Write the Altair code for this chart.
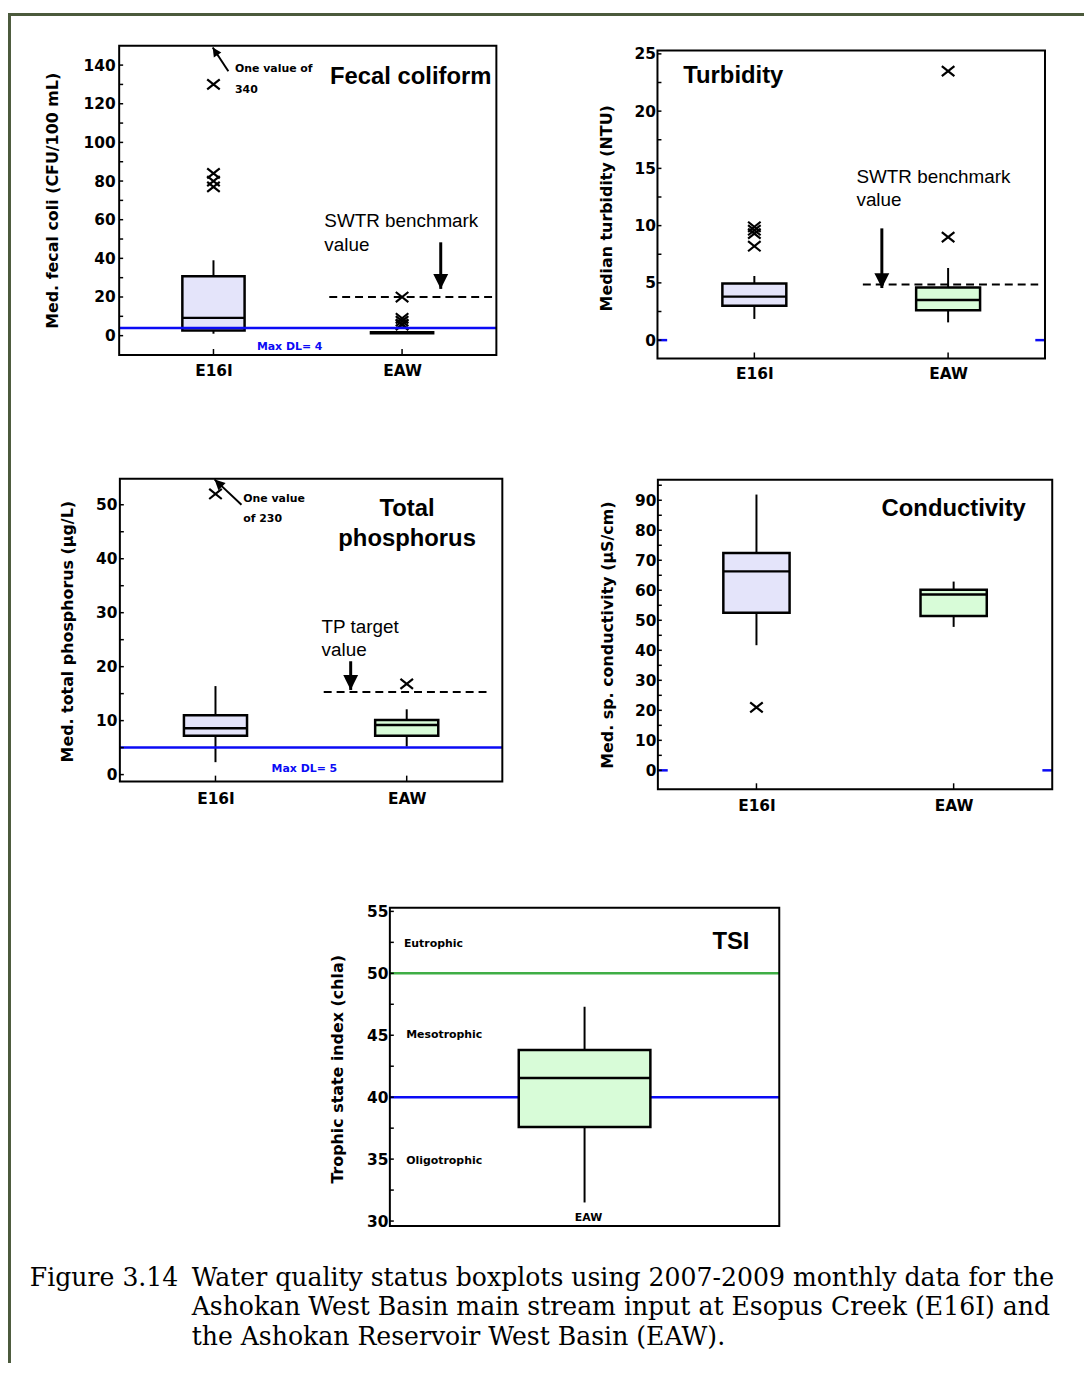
import json
import altair as alt
import pandas as pd

# ---------------------------------------------------------------- data
CATS = ["E16I", "EAW"]
FILL_COLORS = ["#e4e4fa", "#d8fcd8"]

# Fecal coliform (CFU/100 mL)
FC_LOW = [1.0, 1.2]
FC_Q1 = [2.7, 1.2]
FC_MED = [9.2, 1.5]
FC_Q3 = [30.7, 1.8]
FC_HIGH = [39.0, 1.8]
FC_OUT_CAT = ["E16I", "E16I", "E16I", "E16I", "EAW", "EAW", "EAW", "EAW", "EAW"]
FC_OUT_VAL = [130, 84, 80, 77, 20, 9, 7.5, 6, 5.5]
FC_BENCH = 20
FC_DL = 4
FC_TICKS = [0, 20, 40, 60, 80, 100, 120, 140]

# Turbidity (NTU)
TB_LOW = [1.85, 1.55]
TB_Q1 = [3.0, 2.6]
TB_MED = [3.8, 3.5]
TB_Q3 = [4.95, 4.6]
TB_HIGH = [5.6, 6.3]
TB_OUT_CAT = ["E16I", "E16I", "E16I", "E16I", "EAW", "EAW"]
TB_OUT_VAL = [9.9, 9.6, 9.3, 8.2, 23.5, 9.0]
TB_BENCH = 4.85
TB_TICKS = [0, 5, 10, 15, 20, 25]

# Total phosphorus (ug/L)
TP_LOW = [2.3, 5.2]
TP_Q1 = [7.2, 7.2]
TP_MED = [8.6, 9.2]
TP_Q3 = [11.0, 10.1]
TP_HIGH = [16.4, 12.1]
TP_OUT_CAT = ["E16I", "EAW"]
TP_OUT_VAL = [52, 16.8]
TP_TARGET = 15.3
TP_DL = 5
TP_TICKS = [0, 10, 20, 30, 40, 50]

# Specific conductivity (uS/cm)
SC_LOW = [41.7, 47.8]
SC_Q1 = [52.5, 51.4]
SC_MED = [66.3, 58.6]
SC_Q3 = [72.4, 60.2]
SC_HIGH = [91.9, 62.9]
SC_OUT_CAT = ["E16I"]
SC_OUT_VAL = [21]
SC_TICKS = [0, 10, 20, 30, 40, 50, 60, 70, 80, 90]

# Trophic state index
TSI_CATS = ["EAW"]
TSI_FILL = ["#d8fcd8"]
TSI_LOW = [31.5]
TSI_Q1 = [37.6]
TSI_MED = [41.55]
TSI_Q3 = [43.8]
TSI_HIGH = [47.3]
TSI_MESO = 40
TSI_EU = 50
TSI_TICKS = [30, 35, 40, 45, 50, 55]
TSI_CLASSES = ["Eutrophic", "Mesotrophic", "Oligotrophic"]
TSI_CLASS_Y = [52.1, 44.75, 34.6]

CAPTION = [
    "Figure 3.14",
    "Water quality status boxplots using 2007-2009 monthly data for the",
    "Ashokan West Basin main stream input at Esopus Creek (E16I) and",
    "the Ashokan Reservoir West Basin (EAW).",
]
CAPTION_COL = [0, 1, 1, 1]
CAPTION_LINE = [0, 0, 1, 2]

# ---------------------------------------------------------------- style
W, H = 1084, 1360
AX_FONT = "DejaVu Sans"
SANS = "Liberation Sans"
SERIF = "DejaVu Serif"
BLUE = "#0b0bf5"
GREEN = "#3fae45"
BORDER = "#4b5a3c"
XPATH = "M-1,-0.8L1,0.8M-1,0.8L1,-0.8"
HALF = 0.165


def D(**cols):
    return pd.DataFrame(cols)


class Panel:
    def __init__(self, x0, x1, yb, yt, ydom, ncat, ticks, title, title_x, title_y, ypad,
                 xpad=None, cats=None):
        self.x0, self.x1, self.yb, self.yt = x0, x1, yb, yt
        self.ydom = ydom
        self.ncat = ncat
        self.ticks = ticks
        self.xs = alt.Scale(domain=[0, ncat], range=[x0, x1], nice=False, zero=False)
        self.ys = alt.Scale(domain=ydom, range=[yb, yt], nice=False, zero=False)
        self.layers = []
        # one identical axis definition shared by every layer of the panel
        self.yaxis = alt.Axis(orient="left", offset=-x0, values=ticks, ticks=False, domain=False,
                              grid=False, labelFont=AX_FONT, labelFontWeight="bold",
                              labelFontSize=15.5, labelColor="black", labelPadding=ypad,
                              labelOverlap=False, labelFlush=False, title=title,
                              titleFont=AX_FONT, titleFontWeight="bold", titleFontSize=16,
                              titleColor="black", titleAngle=270, titleAlign="center",
                              titleBaseline="middle", titleX=title_x, titleY=title_y)
        if cats and xpad is not None:
            expr = json.dumps(cats).replace('"', "'") + "[floor(datum.value)]"
            self.xaxis = alt.Axis(orient="bottom", offset=yb - H,
                                  values=[i + 0.5 for i in range(len(cats))], labelExpr=expr,
                                  ticks=False, domain=False, grid=False, labelFont=AX_FONT,
                                  labelFontWeight="bold", labelFontSize=15.5, labelColor="black",
                                  labelPadding=xpad, labelOverlap=False, labelFlush=False,
                                  title=None)
        else:
            self.xaxis = None

    def X(self, f):
        return alt.X(f, type="quantitative", scale=self.xs, axis=self.xaxis)

    def Y(self, f):
        return alt.Y(f, type="quantitative", scale=self.ys, axis=self.yaxis)

    def add(self, c):
        self.layers.append(c)

    def boxes(self, cats, fills, low, q1, med, q3, high, half=HALF):
        pos = [i + 0.5 for i in range(len(cats))]
        d = D(pos=pos, xl=[p - half for p in pos], xr=[p + half for p in pos],
              low=low, q1=q1, med=med, q3=q3, high=high, fill=fills)
        self.add(alt.Chart(d).mark_rule(color="black", strokeWidth=2).encode(
            x=self.X("pos"), y=self.Y("low"), y2="q1"))
        self.add(alt.Chart(d).mark_rule(color="black", strokeWidth=2).encode(
            x=self.X("pos"), y=self.Y("q3"), y2="high"))
        self.add(alt.Chart(d).mark_rect(stroke="black", strokeWidth=2.5).encode(
            x=self.X("xl"), x2="xr", y=self.Y("q1"), y2="q3",
            fill=alt.Fill("fill:N", scale=None)))
        self.add(alt.Chart(d).mark_rule(color="black", strokeWidth=2.5).encode(
            x=self.X("xl"), x2="xr", y=self.Y("med")))

    def outliers(self, cats, out_cat, out_val):
        pos = [cats.index(c) + 0.5 for c in out_cat]
        d = D(pos=pos, v=out_val)
        self.add(alt.Chart(d).mark_point(shape=XPATH, size=160, filled=False, stroke="black",
                                         strokeWidth=2.2, opacity=1).encode(
            x=self.X("pos"), y=self.Y("v")))

    def hline(self, y, xa, xb, color, width=2.5, dash=None):
        d = D(x=[xa], x2=[xb], y=[y])
        kw = dict(color=color, strokeWidth=width)
        if dash:
            kw["strokeDash"] = dash
        self.add(alt.Chart(d).mark_rule(**kw).encode(x=self.X("x"), x2="x2", y=self.Y("y")))

    def arrow(self, xs, ys, xt, yt, width=3, head=225, angle=0):
        d = D(x=[xs], y=[ys], x2=[xt], y2=[yt])
        self.add(alt.Chart(d).mark_rule(color="black", strokeWidth=width).encode(
            x=self.X("x"), y=self.Y("y"), x2="x2", y2="y2"))
        shape = "M-1,-2L1,-2L0,0Z" if angle == 0 else "M-1,2L1,2L0,0Z"
        kw = dict(shape=shape, size=head, filled=True, color="black", opacity=1)
        if angle:
            kw["angle"] = angle
        self.add(alt.Chart(d).mark_point(**kw).encode(x=self.X("x2"), y=self.Y("y2")))

    def text(self, xs, ys, texts, font=SANS, size=19, weight="normal", align="left",
             baseline="alphabetic", color="black"):
        d = D(x=xs, y=ys, t=texts)
        self.add(alt.Chart(d).mark_text(font=font, fontSize=size, fontWeight=weight, align=align,
                                        baseline=baseline, color=color).encode(
            x=self.X("x"), y=self.Y("y"), text="t:N"))

    def frame(self, minor, xticks=True):
        lo, hi = self.ydom
        allt = sorted(t for t in set(self.ticks) | set(minor) if lo < t < hi - 1e-9)
        d = D(x=[0] * len(allt), v=allt)
        self.add(alt.Chart(d).mark_point(shape="M0,0L1,0", size=64, filled=False, stroke="black",
                                         strokeWidth=1.5, opacity=1).encode(
            x=self.X("x"), y=self.Y("v")))
        if xticks:
            pos = [i + 0.5 for i in range(self.ncat)]
            d2 = D(x=pos, y=[lo] * len(pos))
            self.add(alt.Chart(d2).mark_point(shape="M0,0L0,-1", size=144, filled=False,
                                              stroke="black", strokeWidth=1.5, opacity=1).encode(
                x=self.X("x"), y=self.Y("y")))
        d3 = D(x=[0], x2=[self.ncat], y=[lo], y2=[hi])
        self.add(alt.Chart(d3).mark_rect(fillOpacity=0, stroke="black", strokeWidth=2).encode(
            x=self.X("x"), x2="x2", y=self.Y("y"), y2="y2"))

    def chart(self):
        return alt.layer(*self.layers)


def halves(ticks):
    step = ticks[1] - ticks[0]
    return [t + step / 2 for t in ticks]


# ---------------------------------------------------------------- panel 1: fecal coliform
p1 = Panel(112, 492, 344.5, 33, [-10, 150], 2, FC_TICKS, "Med. fecal coli (CFU/100 mL)",
           -66.7, 188.7, 4, 9, CATS)
p1.boxes(CATS, FILL_COLORS, FC_LOW, FC_Q1, FC_MED, FC_Q3, FC_HIGH)
p1.outliers(CATS, FC_OUT_CAT, FC_OUT_VAL)
p1.hline(FC_DL, 0, 2, BLUE, 2.5)
p1.hline(FC_BENCH, 1.114, 1.983, "black", 2, [8, 5])
p1.arrow(1.705, 48.3, 1.705, 24.2)
p1.arrow(0.579, 136.8, 0.496, 149.1, width=2, head=81, angle=327)
p1.text([1.974], [130.3], ["Fecal coliform"], size=24, weight="bold", align="right")
p1.text([1.088, 1.088], [56.0, 44.0], ["SWTR benchmark", "value"], size=19)
p1.text([0.614, 0.614], [136.5, 125.7], ["One value of", "340"], font=AX_FONT, size=11,
        weight="bold")
p1.text([0.904], [-5.8], ["Max DL= " + str(FC_DL)], font=AX_FONT, size=11, weight="bold",
        align="center", baseline="middle", color=BLUE)
p1.frame(halves(FC_TICKS))

# ---------------------------------------------------------------- panel 2: turbidity
p2 = Panel(654.3, 1044.7, 348, 37.7, [-1.6, 25.3], 2, TB_TICKS, "Median turbidity (NTU)",
           -51.8, 196.2, 2, 8, CATS)
p2.boxes(CATS, FILL_COLORS, TB_LOW, TB_Q1, TB_MED, TB_Q3, TB_HIGH)
p2.outliers(CATS, TB_OUT_CAT, TB_OUT_VAL)
p2.hline(TB_BENCH, 1.06, 1.965, "black", 2, [8, 5])
p2.hline(0, 0, 0.05, BLUE, 2.5)
p2.hline(0, 1.95, 2, BLUE, 2.5)
p2.arrow(1.158, 9.76, 1.158, 4.55)
p2.text([0.133], [22.47], ["Turbidity"], size=24, weight="bold")
p2.text([1.027, 1.027], [13.74, 11.72], ["SWTR benchmark", "value"], size=19)
p2.frame(halves(TB_TICKS))

# ---------------------------------------------------------------- panel 3: total phosphorus
p3 = Panel(112.7, 498, 774.3, 469.3, [-1.3, 54.8], 2, TP_TICKS,
           "Med. total phosphorus (\u00b5g/L)", -52.9, 622.8, 3, 10, CATS)
p3.boxes(CATS, FILL_COLORS, TP_LOW, TP_Q1, TP_MED, TP_Q3, TP_HIGH)
p3.outliers(CATS, TP_OUT_CAT, TP_OUT_VAL)
p3.hline(TP_DL, 0, 2, BLUE, 2.5)
p3.hline(TP_TARGET, 1.066, 1.934, "black", 2, [8, 5])
p3.arrow(1.207, 21.0, 1.207, 15.68)
p3.arrow(0.636, 50.0, 0.495, 54.7, width=2, head=110, angle=314)
p3.text([1.502, 1.502], [47.86, 42.35], ["Total", "phosphorus"], size=24, weight="bold",
        align="center")
p3.text([0.645, 0.645], [50.44, 46.76], ["One value", "of 230"], font=AX_FONT, size=11,
        weight="bold")
p3.text([1.055, 1.055], [26.2, 21.93], ["TP target", "value"], size=19)
p3.text([0.965], [0.96], ["Max DL= " + str(TP_DL)], font=AX_FONT, size=11, weight="bold",
        align="center", baseline="middle", color=BLUE)
p3.frame(halves(TP_TICKS))

# ---------------------------------------------------------------- panel 4: conductivity
p4 = Panel(654.7, 1052, 782, 470.3, [-6.3, 96.8], 2, SC_TICKS,
           "Med. sp. conductivity (\u00b5S/cm)", -50.4, 626.2, 2, 9, CATS)
p4.boxes(CATS, FILL_COLORS, SC_LOW, SC_Q1, SC_MED, SC_Q3, SC_HIGH, half=0.168)
p4.outliers(CATS, SC_OUT_CAT, SC_OUT_VAL)
p4.hline(0, 0, 0.05, BLUE, 2.5)
p4.hline(0, 1.95, 2, BLUE, 2.5)
p4.text([1.866], [84.66], ["Conductivity"], size=24, weight="bold", align="right")
p4.frame(halves(SC_TICKS))

# ---------------------------------------------------------------- panel 5: TSI
p5 = Panel(384.7, 777, 1222, 901.3, [29.6, 55.3], 1, TSI_TICKS, "Trophic state index (chla)",
           -52.4, 1063.7, 2)
p5.hline(TSI_MESO, 0, 1, BLUE, 2.5)
p5.hline(TSI_EU, 0, 1, GREEN, 2.5)
p5.boxes(TSI_CATS, TSI_FILL, TSI_LOW, TSI_Q1, TSI_MED, TSI_Q3, TSI_HIGH, half=0.169)
p5.text([0.9235], [51.96], ["TSI"], size=24, weight="bold", align="right")
p5.text([0.036, 0.042, 0.042], TSI_CLASS_Y, TSI_CLASSES, font=AX_FONT, size=11, weight="bold")
p5.text([0.51], [30.0], TSI_CATS, font=AX_FONT, size=11, weight="bold", align="center")
p5.frame(halves(TSI_TICKS), xticks=False)

# ---------------------------------------------------------------- caption
cap = alt.Chart(D(c=CAPTION_COL, l=CAPTION_LINE, t=CAPTION)).mark_text(
    font=SERIF, fontSize=25.3, align="left", baseline="alphabetic", color="black").encode(
    x=alt.X("c:Q", scale=alt.Scale(domain=[0, 1], range=[22, 185], nice=False, zero=False),
            axis=None),
    y=alt.Y("l:Q", scale=alt.Scale(domain=[0, 2], range=[1282, 1341.5], nice=False,
                                   zero=False), axis=None),
    text="t:N")

# ---------------------------------------------------------------- page border
border_top = alt.Chart(D(a=[0])).mark_rect(color=BORDER).encode(
    x=alt.value(0), x2=alt.value(W), y=alt.value(0), y2=alt.value(3))
border_left = alt.Chart(D(a=[0])).mark_rect(color=BORDER).encode(
    x=alt.value(0), x2=alt.value(3), y=alt.value(0), y2=alt.value(H))

chart = alt.layer(
    border_top, border_left, p1.chart(), p2.chart(), p3.chart(), p4.chart(), p5.chart(), cap
).resolve_scale(x="independent", y="independent").properties(
    width=W, height=H, autosize=alt.AutoSizeParams(type="none"), padding=0
).configure_view(strokeWidth=0)

chart.save("out.html", embed_options={"renderer": "svg", "actions": False})
